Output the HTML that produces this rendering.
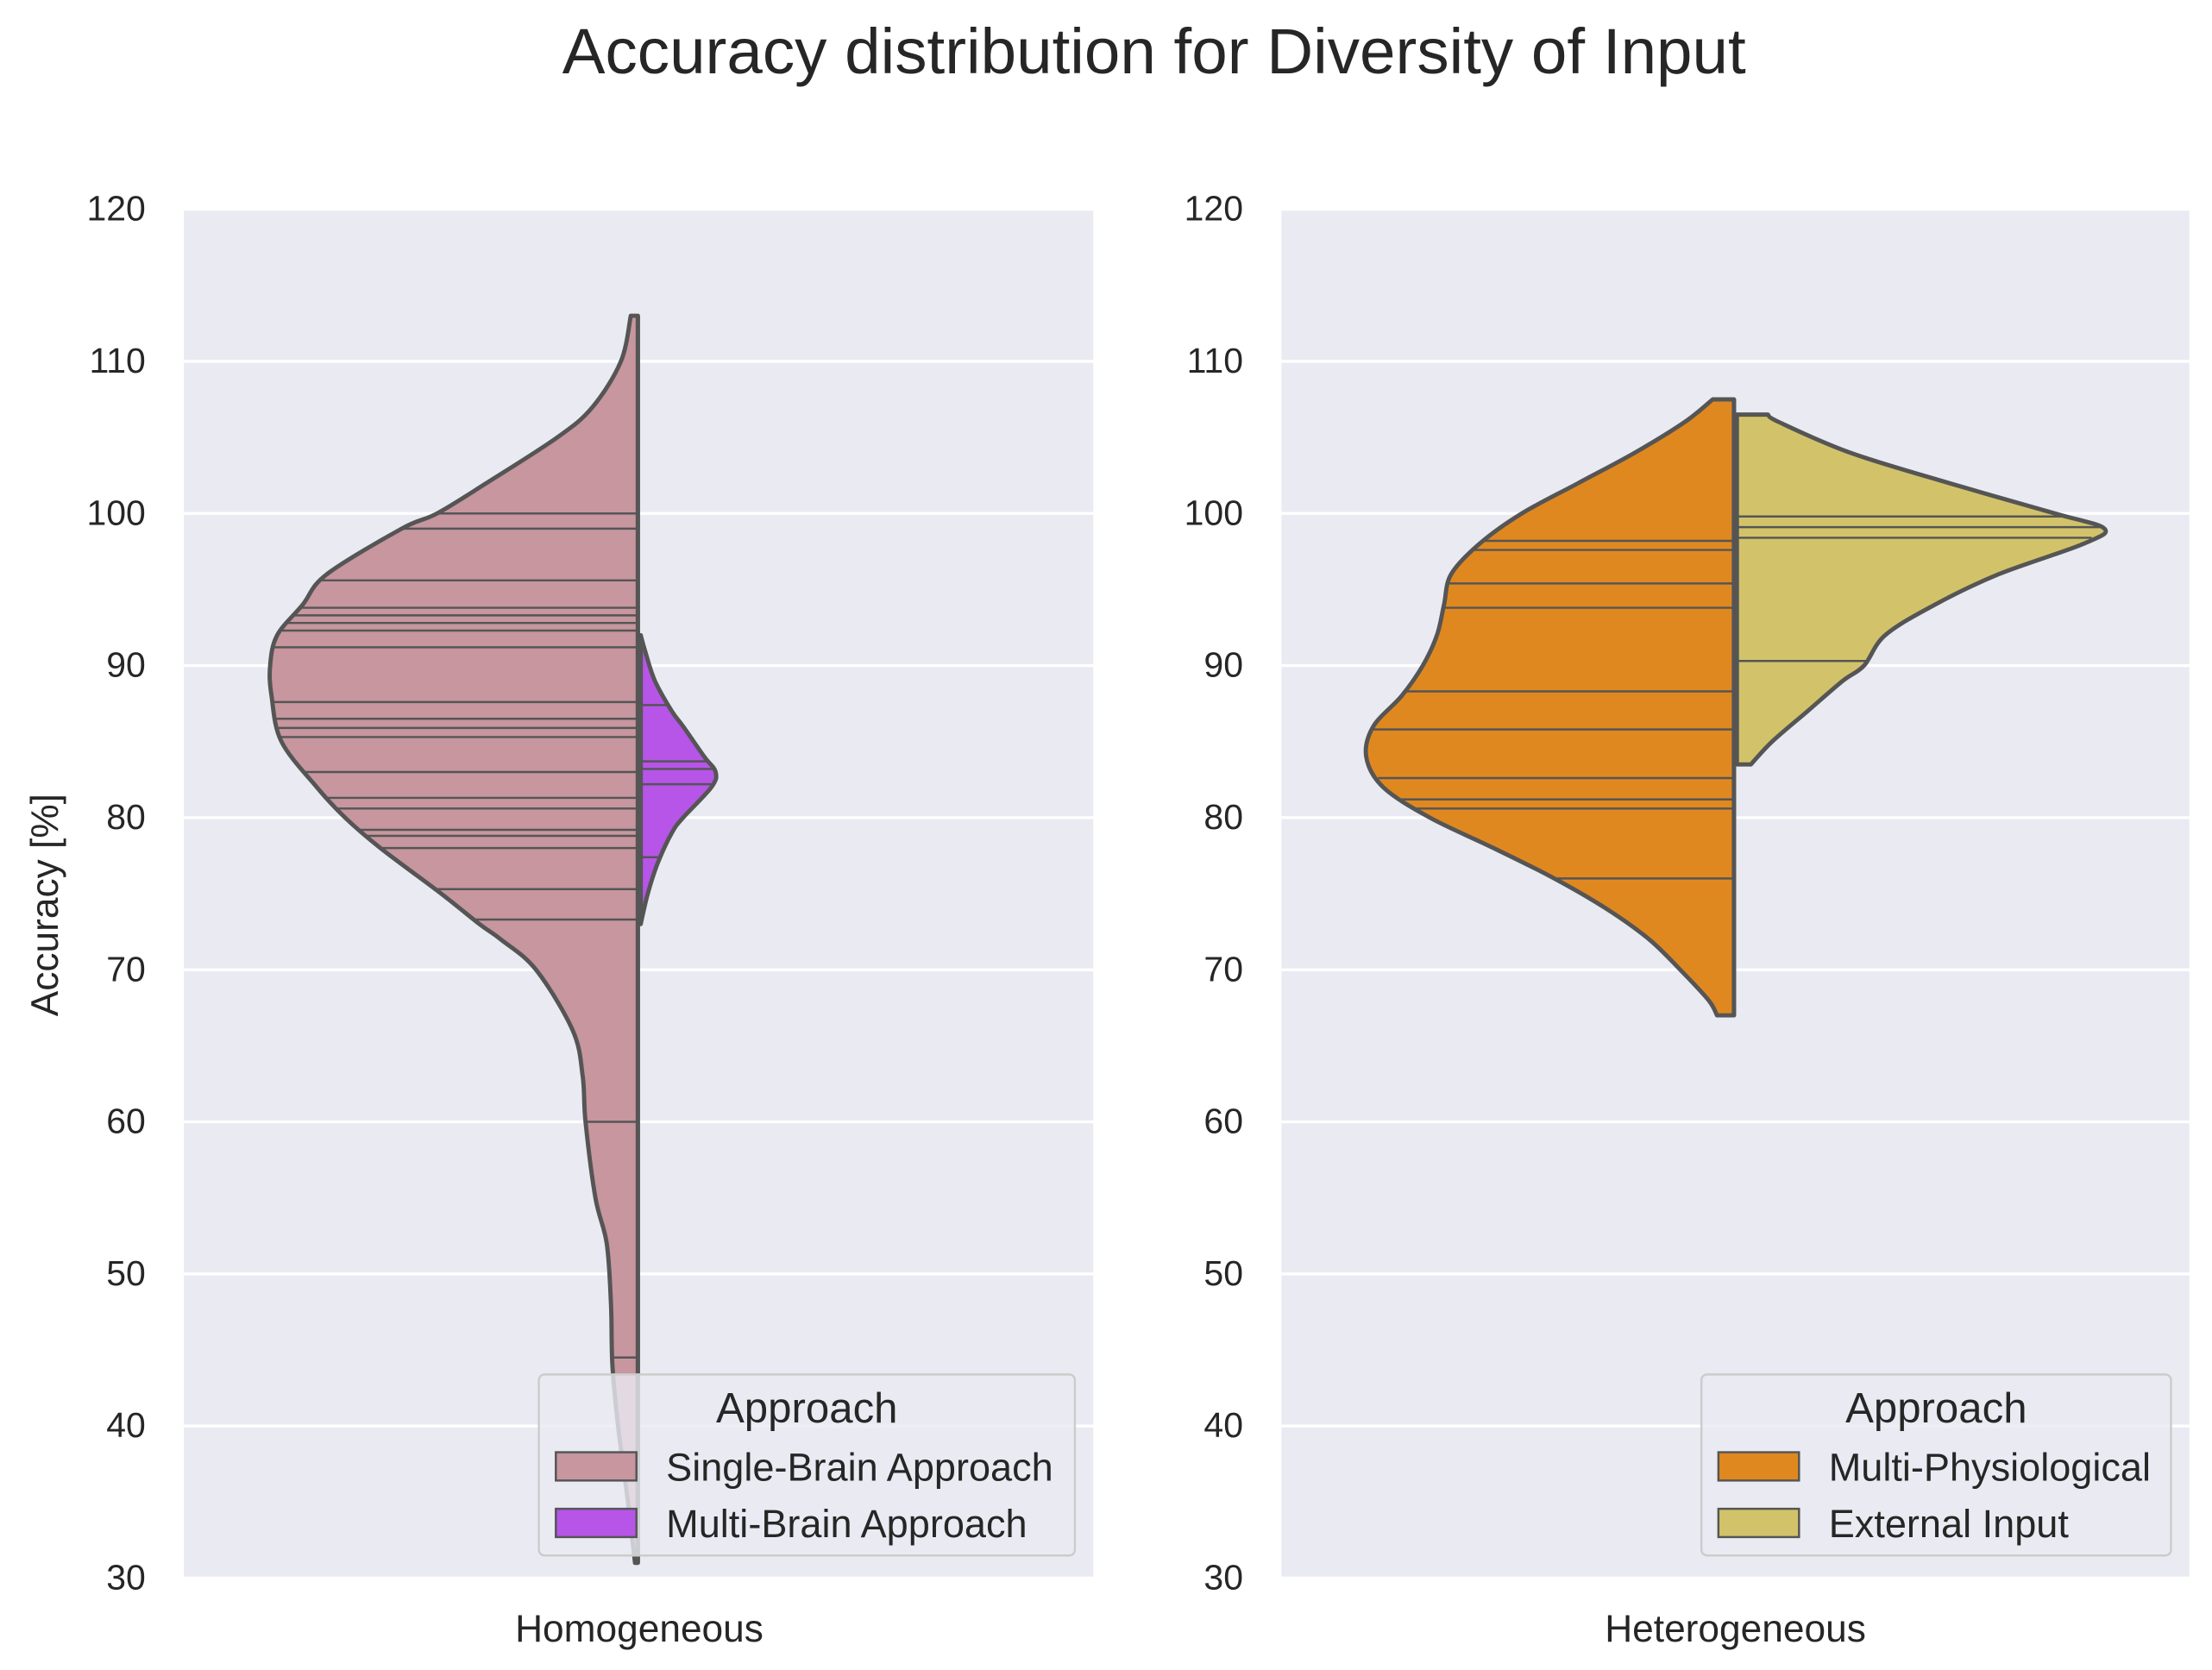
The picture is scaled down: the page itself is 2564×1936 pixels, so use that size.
<!DOCTYPE html>
<html><head><meta charset="utf-8">
<style>
html,body{margin:0;padding:0;background:#fff;}
svg{display:block;font-family:"Liberation Sans",Arial,sans-serif;}
</style></head>
<body>
<svg id="chart" width="2564" height="1936" viewBox="0 0 1564 1181" preserveAspectRatio="none" xmlns="http://www.w3.org/2000/svg">
<text x="816" y="52" font-size="45.5" fill="#262626" text-anchor="middle">Accuracy distribution for Diversity of Input</text>
<text transform="translate(41,640) rotate(-90)" font-size="27" fill="#262626" text-anchor="middle">Accuracy [%]</text>
<g id="p1"></g>
<g id="p2"></g>
</svg>
<script>
// ---- data ----
const yTicks = [30,40,50,60,70,80,90,100,110,120];
const categories = ["Homogeneous","Heterogeneous"];
const seriesNames = [["Single-Brain Approach","Multi-Brain Approach"],["Multi-Physiological","External Input"]];
// density profiles: value grid and half-width (relative px)
const singleVals = [113,110,107,105,102,100,99,96,94,92,90,88,85,82,80,78,75,73,72,70,66,63,60,55,52,48,44,40,35,31];
const singleDens = [5,12,32,57,107,142,167,220,237,255,260,259,252,227,207,182,139,112,97,72,46,39,37,30,22,19,18,14,7,2];
const multiBrainVals = [92,91,89,87,86,84,83,82,80,79,77,75,73];
const multiBrainDens = [0,3,10,22,30,45,53,50,30,22,12,5,0];
const physVals = [107.5,106,104,102,100,98,96,94,92,90,88,86,84,82,80,78,76,74,72,70,68,67];
const physDens = [15,35,70,110,150,180,200,205,210,220,235,255,260,248,215,170,127,90,60,38,18,12];
const extVals = [106.5,106,104,102,100,99,98,96,94,92,90,89,87,85,83.5];
const extDens = [22,30,80,150,225,260,245,185,140,105,90,75,50,25,10];
// observations (stick lines)
const singleObs = [100,99,95.6,93.8,93.3,92.8,92.3,91.2,87.6,86.5,85.9,85.3,83,81.3,80.6,79.2,78.8,78,75.3,73.3,60,44.5];
const multiBrainObs = [87.4,83.7,83.2,82.2,77.4];
const physObs = [98.2,97.6,95.4,93.8,88.3,85.8,82.6,81.2,80.6,76];
const extObs = [99.8,99.1,98.4,90.3];
// ---- layout ----
const NS="http://www.w3.org/2000/svg";
const panels=[{g:"p1",x0:130,x1:773,c:452},{g:"p2",x0:906,x1:1548,c:1227}];
const Y0=148,Y1=1116;
function yScale(v){return Y0+(120-v)/90*(Y1-Y0);}
function mk(parent,tag,attrs){const e=document.createElementNS(NS,tag);for(const k in attrs)e.setAttribute(k,attrs[k]);parent.appendChild(e);return e;}
function interp(vals,dens,v){for(let i=0;i<vals.length-1;i++){const a=vals[i],b=vals[i+1];if((v<=a&&v>=b)||(v>=a&&v<=b)){const t=(v-a)/(b-a||1);return dens[i]+(dens[i+1]-dens[i])*t;}}return 0;}
function smoothPath(pts){let d="M"+pts[0][0]+","+pts[0][1];for(let i=0;i<pts.length-1;i++){const p0=pts[i-1]||pts[i],p1=pts[i],p2=pts[i+1],p3=pts[i+2]||p2;const c1=[p1[0]+(p2[0]-p0[0])/6,p1[1]+(p2[1]-p0[1])/6],c2=[p2[0]-(p3[0]-p1[0])/6,p2[1]-(p3[1]-p1[1])/6];d+=" C"+c1[0]+","+c1[1]+" "+c2[0]+","+c2[1]+" "+p2[0]+","+p2[1];}return d;}
function half(g,c,side,vals,dens,obs,fill,name){
  const pts=vals.map((v,i)=>[c+side*dens[i],yScale(v)]);
  let d="M"+c+","+yScale(vals[0])+" L"+pts[0][0]+","+pts[0][1]+smoothPath(pts).replace(/^M[^C]*/," ")+" L"+c+","+yScale(vals[vals.length-1])+" Z";
  const p=mk(g,"path",{d:d,fill:fill,stroke:"#555555","stroke-width":3,"stroke-linejoin":"round"});
  
  
  obs.forEach(v=>{const w=interp(vals,dens,v);const l=mk(g,"line",{x1:c,x2:c+side*w,y1:yScale(v),y2:yScale(v),stroke:"#555555","stroke-width":1.5});
    
    });
  const cl=mk(g,"line",{x1:c,x2:c,y1:yScale(vals[0]),y2:yScale(vals[vals.length-1]),stroke:"#555555","stroke-width":3});
  
  
}
const data=[[[singleVals,singleDens,singleObs,"#c7969f"],[multiBrainVals,multiBrainDens,multiBrainObs,"#b655e8"]],
            [[physVals,physDens,physObs,"#e08820"],[extVals,extDens,extObs,"#d2c36a"]]];
panels.forEach((P,pi)=>{
  const g=document.getElementById(P.g);
  const bg=mk(g,"rect",{x:P.x0,y:Y0,width:P.x1-P.x0,height:Y1-Y0,fill:"#eaeaf2"});
  
  
  yTicks.forEach(t=>{const y=yScale(t);
    const gl=mk(g,"line",{x1:P.x0,x2:P.x1,y1:y,y2:y,stroke:"#fff","stroke-width":2});
    
    
    const tx=mk(g,"text",{x:P.x0-27,y:y+8,"font-size":25,fill:"#262626","text-anchor":"end"});tx.textContent=t;
    
    });
  const xl=mk(g,"text",{x:P.c,y:1161,"font-size":27,fill:"#262626","text-anchor":"middle"});xl.textContent=categories[pi];
  
  
  const s=data[pi];
  half(g,P.c-1,-1,s[0][0],s[0][1],s[0][2],s[0][3],"violin-"+seriesNames[pi][0].toLowerCase().replace(/[^a-z]+/g,'-'));
  half(g,P.c+1,1,s[1][0],s[1][1],s[1][2],s[1][3],"violin-"+seriesNames[pi][1].toLowerCase().replace(/[^a-z]+/g,'-'));
  // legend
  const lx=pi===0?381:1203, lw=pi===0?379:332;
  const lg=mk(g,"g",{});
  
  
  mk(lg,"rect",{x:lx,y:972,width:lw,height:128,rx:4,fill:"#eaeaf2","fill-opacity":0.8,stroke:"#cccccc","stroke-width":1.5});
  const lt=mk(lg,"text",{x:lx+lw/2,y:1006,"font-size":30,fill:"#262626","text-anchor":"middle"});lt.textContent="Approach";
  
  
  [0,1].forEach(k=>{const yy=1027+k*40;
    const r=mk(lg,"rect",{x:lx+12,y:yy,width:57,height:20,fill:s[k][3],stroke:"#555555","stroke-width":1.5});
    
    
    const t=mk(lg,"text",{x:lx+90,y:yy+20,"font-size":27.5,fill:"#262626"});t.textContent=seriesNames[pi][k];
    
    });
});
</script>
</body></html>
